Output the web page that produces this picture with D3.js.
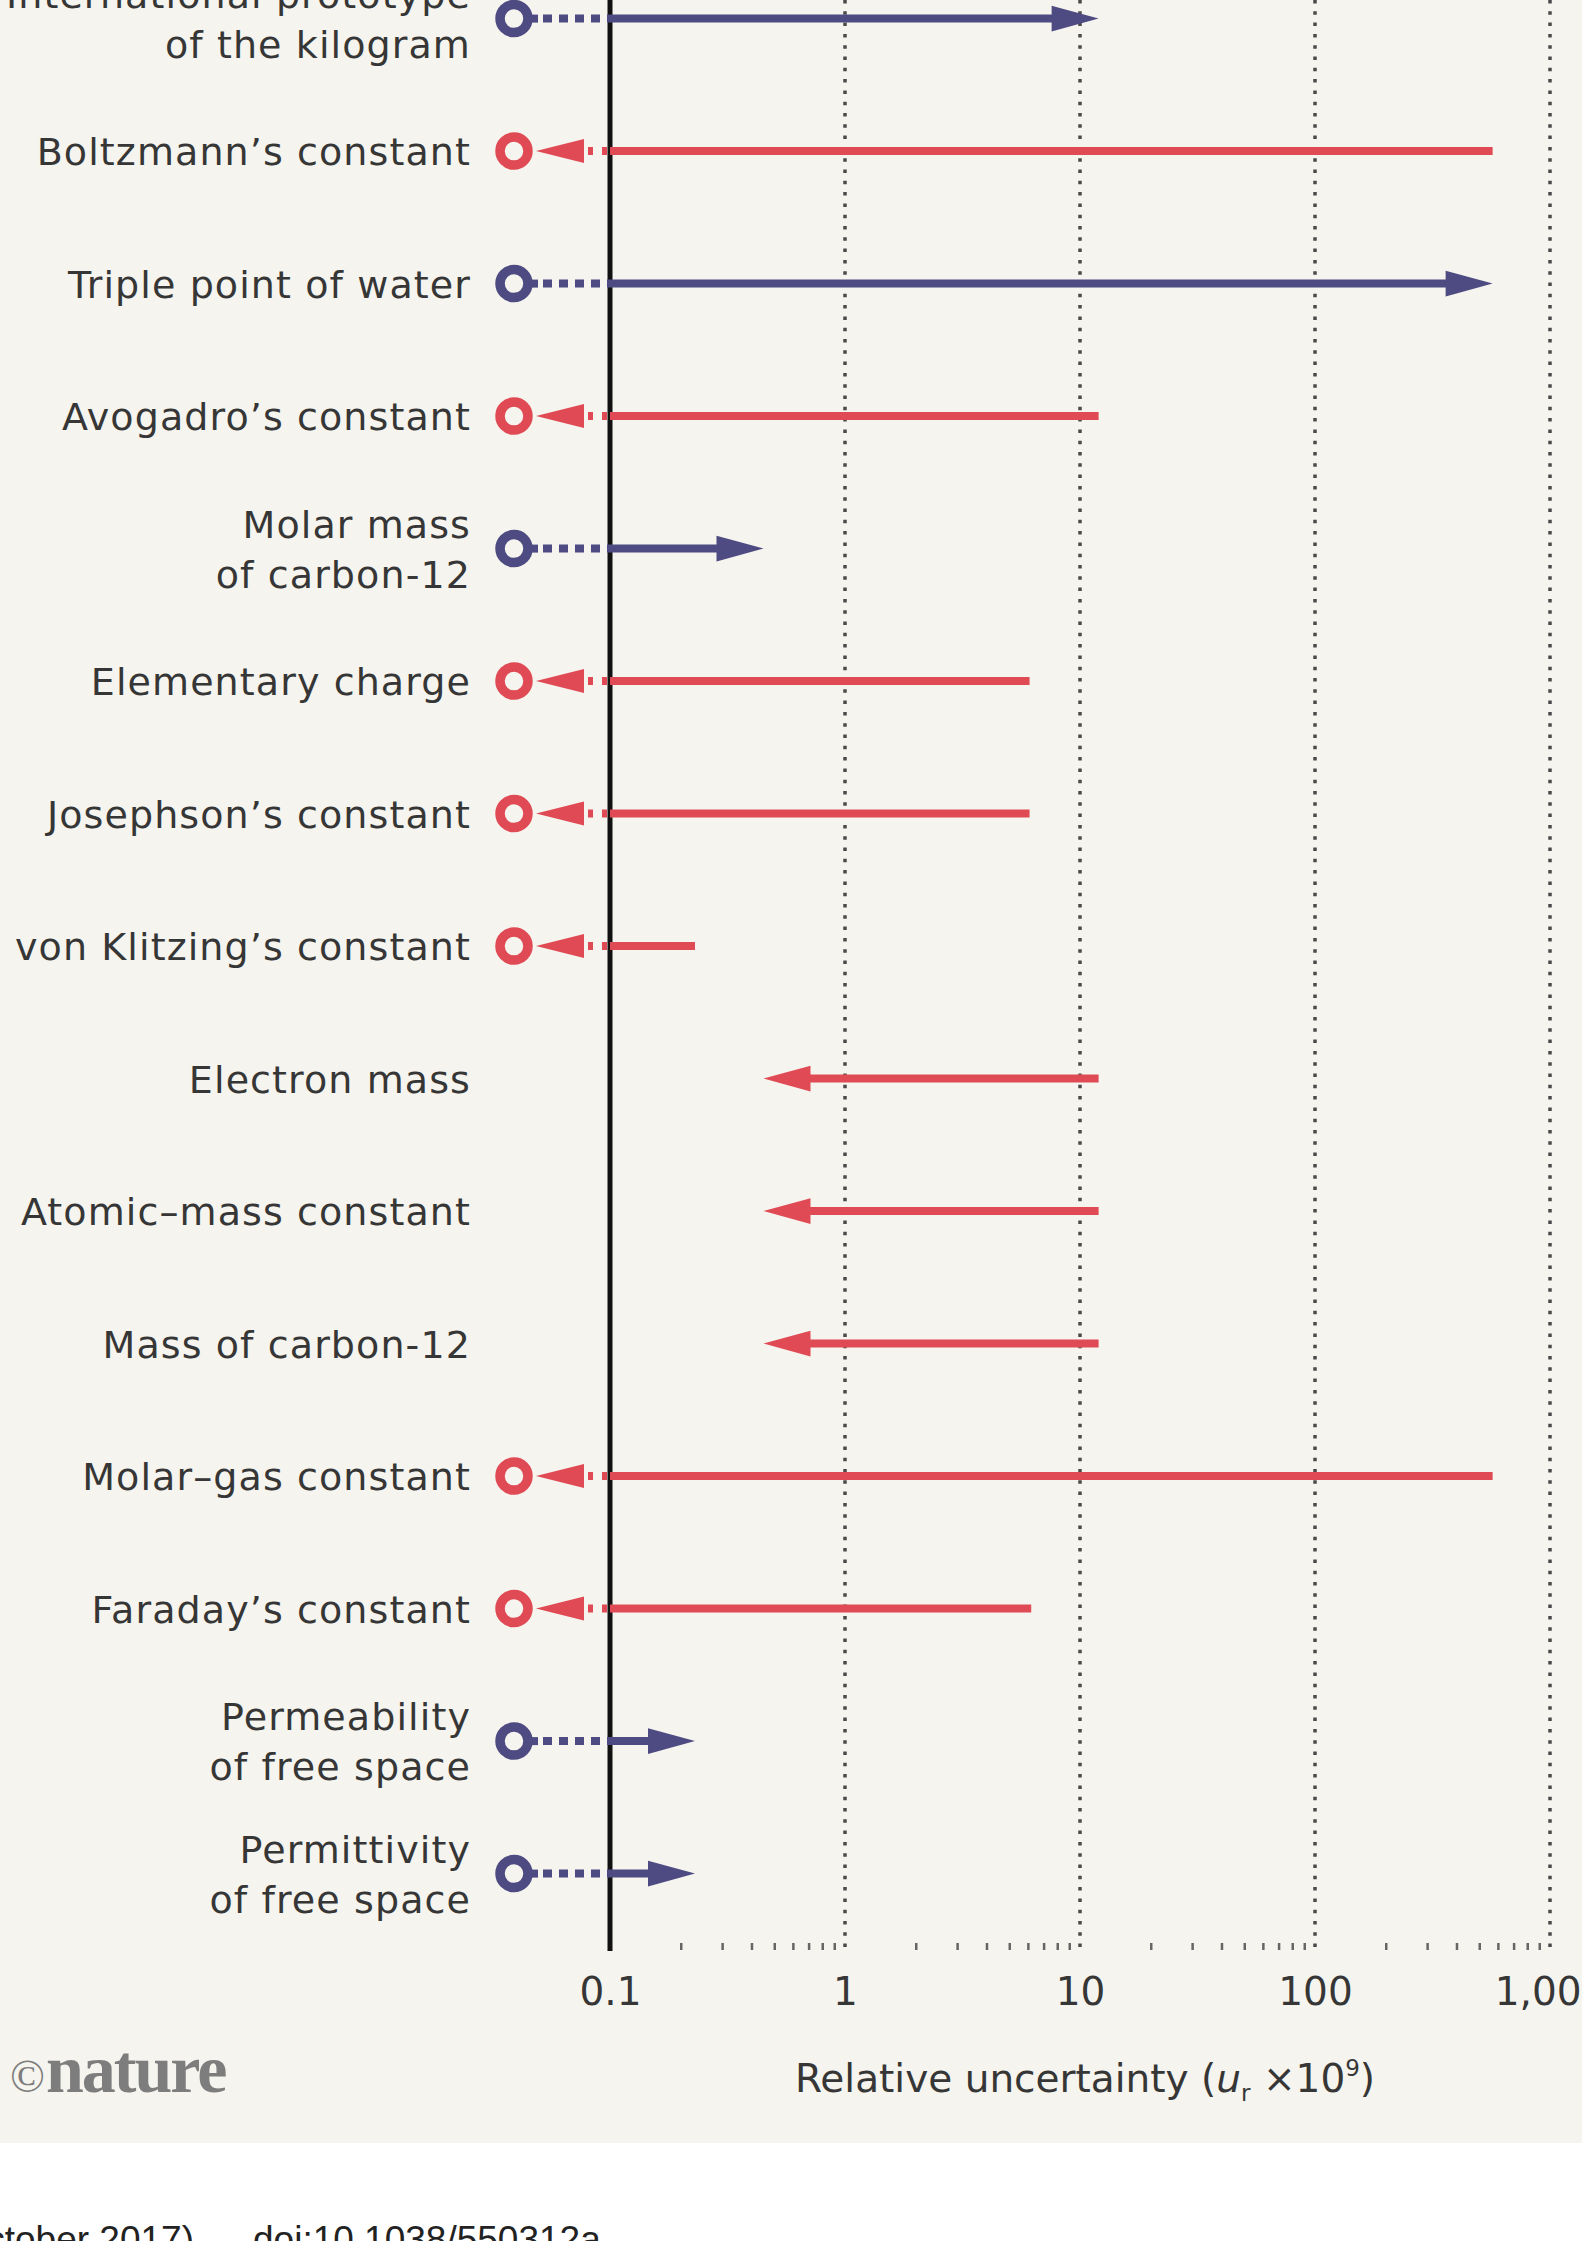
<!DOCTYPE html>
<html>
<head>
<meta charset="utf-8">
<script src="https://cdn.jsdelivr.net/npm/d3@7"></script>
<style>
  html, body { margin: 0; padding: 0; overflow: hidden; background: #ffffff; }
  svg { display: block; }
</style>
</head>
<body>
<svg id="chart" width="1582" height="2241"></svg>
<script>
// ---------------- DATA ----------------
const constantNames = [
  "International prototype\nof the kilogram",
  "Boltzmann’s constant",
  "Triple point of water",
  "Avogadro’s constant",
  "Molar mass\nof carbon-12",
  "Elementary charge",
  "Josephson’s constant",
  "von Klitzing’s constant",
  "Electron mass",
  "Atomic–mass constant",
  "Mass of carbon-12",
  "Molar–gas constant",
  "Faraday’s constant",
  "Permeability\nof free space",
  "Permittivity\nof free space"
];
// "exact": becomes exact (red, circle); "free": was exact, becomes measured (blue, circle); "reduced": uncertainty shrinks
const changeType = [
  "free", "exact", "free", "exact", "free", "exact", "exact", "exact",
  "reduced", "reduced", "reduced", "exact", "exact", "free", "free"
];
// relative uncertainty (x10^-9) before the redefinition
const uncertaintyBefore = [null, 570, null, 12, null, 6.1, 6.1, 0.23, 12, 12, 12, 570, 6.2, null, null];
// relative uncertainty (x10^-9) after the redefinition
const uncertaintyAfter  = [12, null, 570, null, 0.45, null, null, null, 0.45, 0.45, 0.45, null, null, 0.23, 0.23];

const tickValues = [0.1, 1, 10, 100, 1000];
const tickLabels = ["0.1", "1", "10", "100", "1,000"];
const minorTickValues = [0.2,0.3,0.4,0.5,0.6,0.7,0.8,0.9, 2,3,4,5,6,7,8,9, 20,30,40,50,60,70,80,90, 200,300,400,500,600,700,800,900];
const axisTitle = ["Relative uncertainty (", "u", "r", " ×10", "9", ")"];

// ---------------- STYLE ----------------
const RED = "#e04a54";
const BLUE = "#4e4a82";
const BG = "#f5f4ee";
const TEXT = "#363636";
const FONT = "'DejaVu Sans', sans-serif";

const W = 1582, H = 2241;
const svg = d3.select("#chart");

svg.append("rect").attr("x", 0).attr("y", 0).attr("width", W).attr("height", 2143).attr("fill", BG);

const x = d3.scaleLog().domain([0.1, 1000]).range([610, 1550]);
const y = d3.scalePoint().domain(d3.range(constantNames.length)).range([18.6, 1873.6]);

const axisBottomY = 1951;

// dotted gridlines
svg.append("g").selectAll("line").data(tickValues.slice(1)).join("line")
  .attr("x1", d => x(d)).attr("x2", d => x(d))
  .attr("y1", 0).attr("y2", axisBottomY)
  .attr("stroke", "#4a4a4a").attr("stroke-width", 3.5)
  .attr("stroke-dasharray", "3.5,7.8");

// minor ticks
const minorAxis = d3.axisBottom(x).tickValues(minorTickValues).tickSize(7).tickFormat("");
const gMinor = svg.append("g").attr("transform", `translate(0,${axisBottomY - 8})`).call(minorAxis);
gMinor.select(".domain").remove();
gMinor.selectAll(".tick line").attr("stroke", "#666").attr("stroke-width", 2.5);

// major tick labels
const majorAxis = d3.axisBottom(x).tickValues(tickValues).tickSize(0).tickFormat((d, i) => tickLabels[i]);
const gMajor = svg.append("g").attr("transform", `translate(0,${axisBottomY})`).call(majorAxis);
gMajor.select(".domain").remove();
gMajor.selectAll(".tick text")
  .attr("y", 54).attr("dy", null)
  .attr("font-family", FONT).attr("font-size", 39).attr("fill", TEXT);

// main vertical axis at 0.1
svg.append("line")
  .attr("x1", x(0.1)).attr("x2", x(0.1)).attr("y1", 0).attr("y2", axisBottomY)
  .attr("stroke", "#111").attr("stroke-width", 5);

// ---------------- ROWS ----------------
const circleX = 514;
const headLen = 47, headHalf = 12.8;
const rows = svg.append("g");

constantNames.forEach((name, i) => {
  const yy = y(i);
  const type = changeType[i];
  const g = rows.append("g");

  // label
  const lines = name.split("\n");
  const t = g.append("text")
    .attr("text-anchor", "end")
    .attr("font-family", FONT).attr("font-size", 38)
    .attr("letter-spacing", 1.1).attr("fill", TEXT);
  if (lines.length === 1) {
    t.append("tspan").attr("x", 471).attr("y", yy + 14).text(lines[0]);
  } else {
    t.append("tspan").attr("x", 471).attr("y", yy - 11).text(lines[0]);
    t.append("tspan").attr("x", 471).attr("y", yy + 39).text(lines[1]);
  }

  if (type === "exact") {
    g.append("line").attr("x1", x(0.1)).attr("x2", x(uncertaintyBefore[i]))
      .attr("y1", yy).attr("y2", yy).attr("stroke", RED).attr("stroke-width", 8);
    g.append("line").attr("x1", 588).attr("x2", x(0.1))
      .attr("y1", yy).attr("y2", yy).attr("stroke", RED).attr("stroke-width", 8)
      .attr("stroke-dasharray", "5,9");
    g.append("path")
      .attr("d", `M536,${yy} L584,${yy - 12} L584,${yy + 12} Z`)
      .attr("fill", RED);
    g.append("circle").attr("cx", circleX).attr("cy", yy).attr("r", 14)
      .attr("fill", BG).attr("stroke", RED).attr("stroke-width", 9.5);
  } else if (type === "free") {
    const tip = x(uncertaintyAfter[i]);
    g.append("line").attr("x1", x(0.1)).attr("x2", tip - headLen + 2)
      .attr("y1", yy).attr("y2", yy).attr("stroke", BLUE).attr("stroke-width", 8);
    g.append("path")
      .attr("d", `M${tip},${yy} L${tip - headLen},${yy - headHalf} L${tip - headLen},${yy + headHalf} Z`)
      .attr("fill", BLUE);
    g.append("line").attr("x1", 528).attr("x2", 538)
      .attr("y1", yy).attr("y2", yy).attr("stroke", BLUE).attr("stroke-width", 8);
    g.append("line").attr("x1", 543).attr("x2", x(0.1))
      .attr("y1", yy).attr("y2", yy).attr("stroke", BLUE).attr("stroke-width", 8)
      .attr("stroke-dasharray", "9,7");
    g.append("circle").attr("cx", circleX).attr("cy", yy).attr("r", 14)
      .attr("fill", BG).attr("stroke", BLUE).attr("stroke-width", 9.5);
  } else {
    const tip = x(uncertaintyAfter[i]);
    g.append("line").attr("x1", x(uncertaintyBefore[i])).attr("x2", tip + headLen - 2)
      .attr("y1", yy).attr("y2", yy).attr("stroke", RED).attr("stroke-width", 8);
    g.append("path")
      .attr("d", `M${tip},${yy} L${tip + headLen},${yy - headHalf} L${tip + headLen},${yy + headHalf} Z`)
      .attr("fill", RED);
  }
});

// ---------------- AXIS TITLE ----------------
const title = svg.append("text")
  .attr("x", 795).attr("y", 2092)
  .attr("font-family", FONT).attr("font-size", 39).attr("fill", TEXT);
title.append("tspan").text(axisTitle[0]);
title.append("tspan").attr("font-style", "italic").text(axisTitle[1]);
title.append("tspan").attr("font-size", 23).attr("dy", 9).text(axisTitle[2]);
title.append("tspan").attr("dy", -9).text(axisTitle[3]);
title.append("tspan").attr("font-size", 23).attr("dy", -16).text(axisTitle[4]);
title.append("tspan").attr("dy", 16).text(axisTitle[5]);

// ---------------- LOGO ----------------
svg.append("text").attr("x", 10).attr("y", 2092)
  .attr("font-family", "'Liberation Serif', serif").attr("font-size", 46)
  .attr("fill", "#7d7d7d").text("©");
svg.append("text").attr("x", 46).attr("y", 2092)
  .attr("font-family", "'Liberation Serif', serif").attr("font-weight", "bold")
  .attr("font-size", 68).attr("letter-spacing", -2)
  .attr("fill", "#7d7d7d").text("nature");

// ---------------- FOOTER (cropped) ----------------
svg.append("text").attr("x", 194).attr("y", 2252).attr("text-anchor", "end")
  .attr("font-family", "'Liberation Sans', Arial, sans-serif").attr("font-size", 37)
  .attr("fill", "#222").text("October 2017)");
svg.append("text").attr("x", 253).attr("y", 2252)
  .attr("font-family", "'Liberation Sans', Arial, sans-serif").attr("font-size", 37)
  .attr("fill", "#222").text("doi:10.1038/550312a");
</script>
</body>
</html>
